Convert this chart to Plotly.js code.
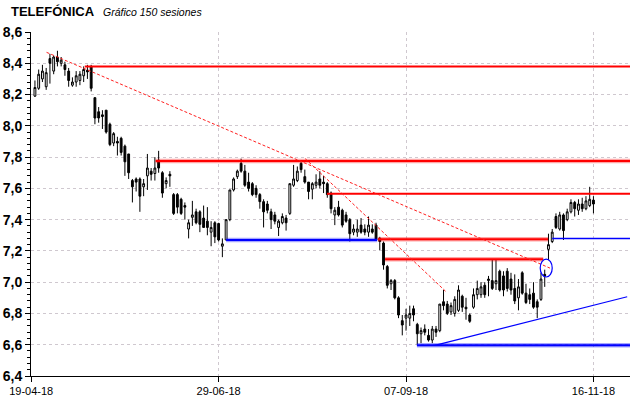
<!DOCTYPE html>
<html><head><meta charset="utf-8">
<script src="https://cdn.plot.ly/plotly-3.0.1.min.js"></script>
<style>html,body{margin:0;padding:0;background:#fff}#chart{width:640px;height:398px}</style>
</head><body><div id="chart"></div>
<script>
const opens = [
8.19,8.24,8.30,8.25,8.43,8.35,8.44,8.40,8.39,8.35,
8.26,8.28,8.29,8.32,8.355,8.38,8.18,8.09,8.07,8.10,
8.01,7.89,7.90,7.92,7.87,7.82,7.65,7.66,7.66,7.61,
7.68,7.71,7.695,7.78,7.70,7.63,7.69,7.56,7.56,7.53,
7.49,7.34,7.415,7.45,7.45,7.41,7.39,7.32,7.38,7.375,
7.23,7.27,7.40,7.59,7.675,7.76,7.71,7.64,7.63,7.60,
7.56,7.515,7.50,7.45,7.43,7.35,7.38,7.41,7.44,7.62,
7.65,7.76,7.675,7.64,7.595,7.62,7.66,7.64,7.63,7.57,
7.43,7.48,7.46,7.43,7.40,7.32,7.32,7.365,7.34,7.32,
7.34,7.365,7.28,7.25,7.10,6.99,7.01,6.90,6.754,6.77,
6.77,6.83,6.73,6.67,6.70,6.66,6.63,6.70,6.69,6.875,
6.86,6.81,6.80,6.82,6.91,6.84,6.79,6.84,6.92,6.92,
6.98,7.01,7.01,6.99,7.07,7.04,7.07,7.02,6.96,6.90,
7.06,6.93,6.92,6.93,6.875,6.89,7.05,7.21,7.26,7.42,
7.34,7.43,7.40,7.45,7.51,7.46,7.50,7.47,7.49,7.525];
const highs = [
8.29,8.36,8.39,8.37,8.46,8.45,8.48,8.44,8.41,8.37,
8.31,8.35,8.35,8.38,8.39,8.39,8.18,8.12,8.10,8.10,
8.02,7.96,7.93,7.93,7.88,7.82,7.66,7.67,7.67,7.66,
7.82,7.73,7.80,7.84,7.71,7.67,7.71,7.57,7.57,7.54,
7.51,7.40,7.52,7.47,7.46,7.49,7.48,7.39,7.39,7.38,
7.28,7.40,7.59,7.67,7.72,7.79,7.75,7.70,7.64,7.62,
7.57,7.53,7.52,7.47,7.45,7.40,7.44,7.43,7.63,7.75,
7.74,7.78,7.72,7.64,7.64,7.69,7.71,7.68,7.64,7.58,
7.48,7.52,7.47,7.45,7.41,7.37,7.40,7.41,7.37,7.42,
7.37,7.38,7.29,7.26,7.11,7.02,7.02,6.91,6.79,6.83,
6.85,6.85,6.74,6.71,6.73,6.70,6.72,6.72,6.86,6.95,
6.88,6.87,6.91,6.98,6.92,6.90,6.80,6.96,7.01,7.00,
7.00,7.04,7.145,7.145,7.08,7.07,7.09,7.06,7.05,7.02,
7.07,6.99,6.96,7.00,6.89,7.06,7.08,7.31,7.34,7.44,
7.45,7.44,7.47,7.53,7.52,7.53,7.54,7.55,7.61,7.55];
const lows = [
8.185,8.23,8.28,8.23,8.27,8.33,8.38,8.38,8.32,8.25,
8.25,8.25,8.26,8.28,8.30,8.22,8.01,8.02,7.98,7.95,
7.87,7.87,7.81,7.81,7.68,7.66,7.51,7.58,7.45,7.55,
7.59,7.65,7.65,7.70,7.54,7.60,7.61,7.43,7.44,7.43,
7.40,7.28,7.36,7.37,7.32,7.35,7.30,7.23,7.25,7.26,
7.16,7.27,7.39,7.58,7.66,7.70,7.61,7.58,7.55,7.54,
7.47,7.35,7.44,7.34,7.37,7.295,7.37,7.33,7.43,7.61,
7.64,7.70,7.63,7.53,7.53,7.60,7.60,7.57,7.54,7.44,
7.365,7.42,7.35,7.38,7.26,7.30,7.29,7.31,7.30,7.29,
7.31,7.27,7.205,7.08,6.96,6.95,6.89,6.77,6.66,6.69,
6.72,6.75,6.60,6.61,6.66,6.62,6.61,6.65,6.68,6.82,
6.79,6.79,6.78,6.81,6.81,6.76,6.74,6.83,6.89,6.90,
6.90,6.91,6.95,6.95,6.94,6.91,6.94,6.92,6.86,6.82,
6.92,6.86,6.86,6.83,6.77,6.88,6.97,7.14,7.25,7.34,
7.33,7.27,7.39,7.44,7.42,7.43,7.45,7.46,7.48,7.44];
const closes = [
8.245,8.33,8.35,8.34,8.40,8.44,8.41,8.42,8.36,8.29,
8.28,8.32,8.33,8.36,8.345,8.24,8.05,8.05,8.06,7.96,
7.88,7.95,7.89,7.83,7.77,7.70,7.61,7.64,7.55,7.63,
7.73,7.69,7.73,7.73,7.57,7.65,7.68,7.44,7.48,7.44,
7.48,7.38,7.43,7.38,7.37,7.35,7.35,7.35,7.29,7.27,
7.245,7.40,7.59,7.66,7.71,7.71,7.62,7.60,7.56,7.56,
7.515,7.45,7.46,7.40,7.39,7.39,7.42,7.38,7.63,7.66,
7.71,7.72,7.64,7.58,7.63,7.64,7.62,7.63,7.56,7.47,
7.46,7.43,7.365,7.39,7.31,7.34,7.34,7.32,7.32,7.365,
7.32,7.27,7.26,7.11,6.98,7.01,6.90,6.79,6.726,6.79,
6.80,6.79,6.67,6.69,6.68,6.63,6.70,6.68,6.86,6.85,
6.80,6.85,6.89,6.95,6.84,6.83,6.75,6.92,6.96,6.97,
6.92,7.02,6.96,7.01,6.95,6.95,6.96,6.95,6.88,6.97,
6.93,6.87,6.89,6.84,6.84,7.02,7.04,7.24,7.32,7.35,
7.43,7.33,7.45,7.51,7.47,7.50,7.47,7.52,7.53,7.50];
const sessions = opens.map((_, k) => k + 1);

const tickSessions = [0, 50, 100, 150];
const tickDates = ['19-04-18', '29-06-18', '07-09-18', '16-11-18'];

// drawn study lines (session, price)
const redThickLevel = [7.775, 7.275, 7.146];
const redThickFrom = [33.2, 92.5, 94.4];
const redThickTo = [159.75, 137.9, 136.6];
const redThinLevel = [8.38, 7.565];
const redThinFrom = [14.3, 78.9];
const redThinTo = [159.75, 159.75];
const blueThickLevel = [7.27, 6.596];
const blueThickFrom = [52.0, 102.9];
const blueThickTo = [92.3, 159.75];
const blueThinLevel = [7.28];
const blueThinFrom = [139.0];
const blueThinTo = [159.75];
const redTrendX0 = [4.1, 73.1];
const redTrendY0 = [8.47, 7.79];
const redTrendX1 = [138.4, 110.9];
const redTrendY1 = [7.09, 6.934];
const blueTrendX0 = [107.7];
const blueTrendY0 = [6.596];
const blueTrendX1 = [159.0];
const blueTrendY1 = [6.907];
const circleX = [135.8, 139.0];
const circleY = [7.033, 7.148];

const shapes = [];
function seg(x0, y0, x1, y1, color, width, dash) {
  shapes.push({type: 'line', xref: 'x', yref: 'y', x0, y0, x1, y1,
    line: {color, width, dash: dash || 'solid'}});
}
redThickLevel.forEach((v, k) => {
  seg(redThickFrom[k], v, redThickTo[k], v, 'rgba(255,0,0,0.35)', 4.5);
  seg(redThickFrom[k], v, redThickTo[k], v, '#ff0000', 2);
});
redThinLevel.forEach((v, k) => seg(redThinFrom[k], v, redThinTo[k], v, '#ff0000', 2));
blueThickLevel.forEach((v, k) => {
  seg(blueThickFrom[k], v, blueThickTo[k], v, 'rgba(0,0,255,0.35)', 4.5);
  seg(blueThickFrom[k], v, blueThickTo[k], v, '#0000ff', 2);
});
blueThinLevel.forEach((v, k) => seg(blueThinFrom[k], v, blueThinTo[k], v, '#0000ff', 1.5));
redTrendX0.forEach((v, k) => seg(v, redTrendY0[k], redTrendX1[k], redTrendY1[k], '#ff2020', 1, '3px,2px'));
blueTrendX0.forEach((v, k) => seg(v, blueTrendY0[k], blueTrendX1[k], blueTrendY1[k], '#0000ff', 1.2));
shapes.push({type: 'circle', xref: 'x', yref: 'y', x0: circleX[0], x1: circleX[1],
  y0: circleY[0], y1: circleY[1], line: {color: '#0000ff', width: 1.2}});

const trace = {
  type: 'candlestick', x: sessions, open: opens, high: highs, low: lows, close: closes,
  increasing: {line: {color: '#000000', width: 1}, fillcolor: '#ffffff'},
  decreasing: {line: {color: '#000000', width: 1}, fillcolor: '#000000'},
  whiskerwidth: 0, hoverinfo: 'skip', showlegend: false
};

const grid = '#cfc8cf';
const layout = {
  width: 640, height: 398,
  margin: {l: 31, r: 10, t: 32, b: 22},
  paper_bgcolor: '#ffffff', plot_bgcolor: '#ffffff',
  separators: ',.',
  showlegend: false, hovermode: false,
  xaxis: {
    range: [-0.05, 159.75], tickvals: tickSessions, ticktext: tickDates,
    ticks: 'outside', ticklen: 5, tickcolor: '#000', showline: true, linecolor: '#000', linewidth: 1,
    showgrid: true, gridcolor: grid, griddash: 'dot', gridwidth: 1, zeroline: false,
    tickfont: {family: 'Liberation Sans, Arial, sans-serif', size: 11, color: '#000'},
    rangeslider: {visible: false}, fixedrange: true
  },
  yaxis: {
    range: [6.4, 8.6], tick0: 6.4, dtick: 0.2, tickformat: '.1f',
    ticks: 'outside', ticklen: 5, tickcolor: '#000', showline: true, linecolor: '#000', linewidth: 1,
    showgrid: true, gridcolor: grid, griddash: 'dot', gridwidth: 1, zeroline: false,
    minor: {ticks: 'outside', ticklen: 3, dtick: 0.04, tick0: 6.4, tickcolor: '#000', showgrid: false},
    tickfont: {family: 'Liberation Sans, Arial, sans-serif', size: 14, color: '#000', weight: 'bold'},
    fixedrange: true
  },
  shapes: shapes,
  annotations: [
    {xref: 'paper', yref: 'paper', x: -0.0367, y: 1.061, xanchor: 'left', yanchor: 'middle',
     text: 'TELEFÓNICA', showarrow: false,
     font: {family: 'Liberation Sans, Arial, sans-serif', size: 13, color: '#000', weight: 'bold'}},
    {xref: 'paper', yref: 'paper', x: 0.1164, y: 1.058, xanchor: 'left', yanchor: 'middle',
     text: '<i>Gráfico 150 sesiones</i>', showarrow: false,
     font: {family: 'Liberation Sans, Arial, sans-serif', size: 10.5, color: '#000'}}
  ]
};

Plotly.newPlot('chart', [trace], layout, {displayModeBar: false, staticPlot: true});
</script>
</body></html>
